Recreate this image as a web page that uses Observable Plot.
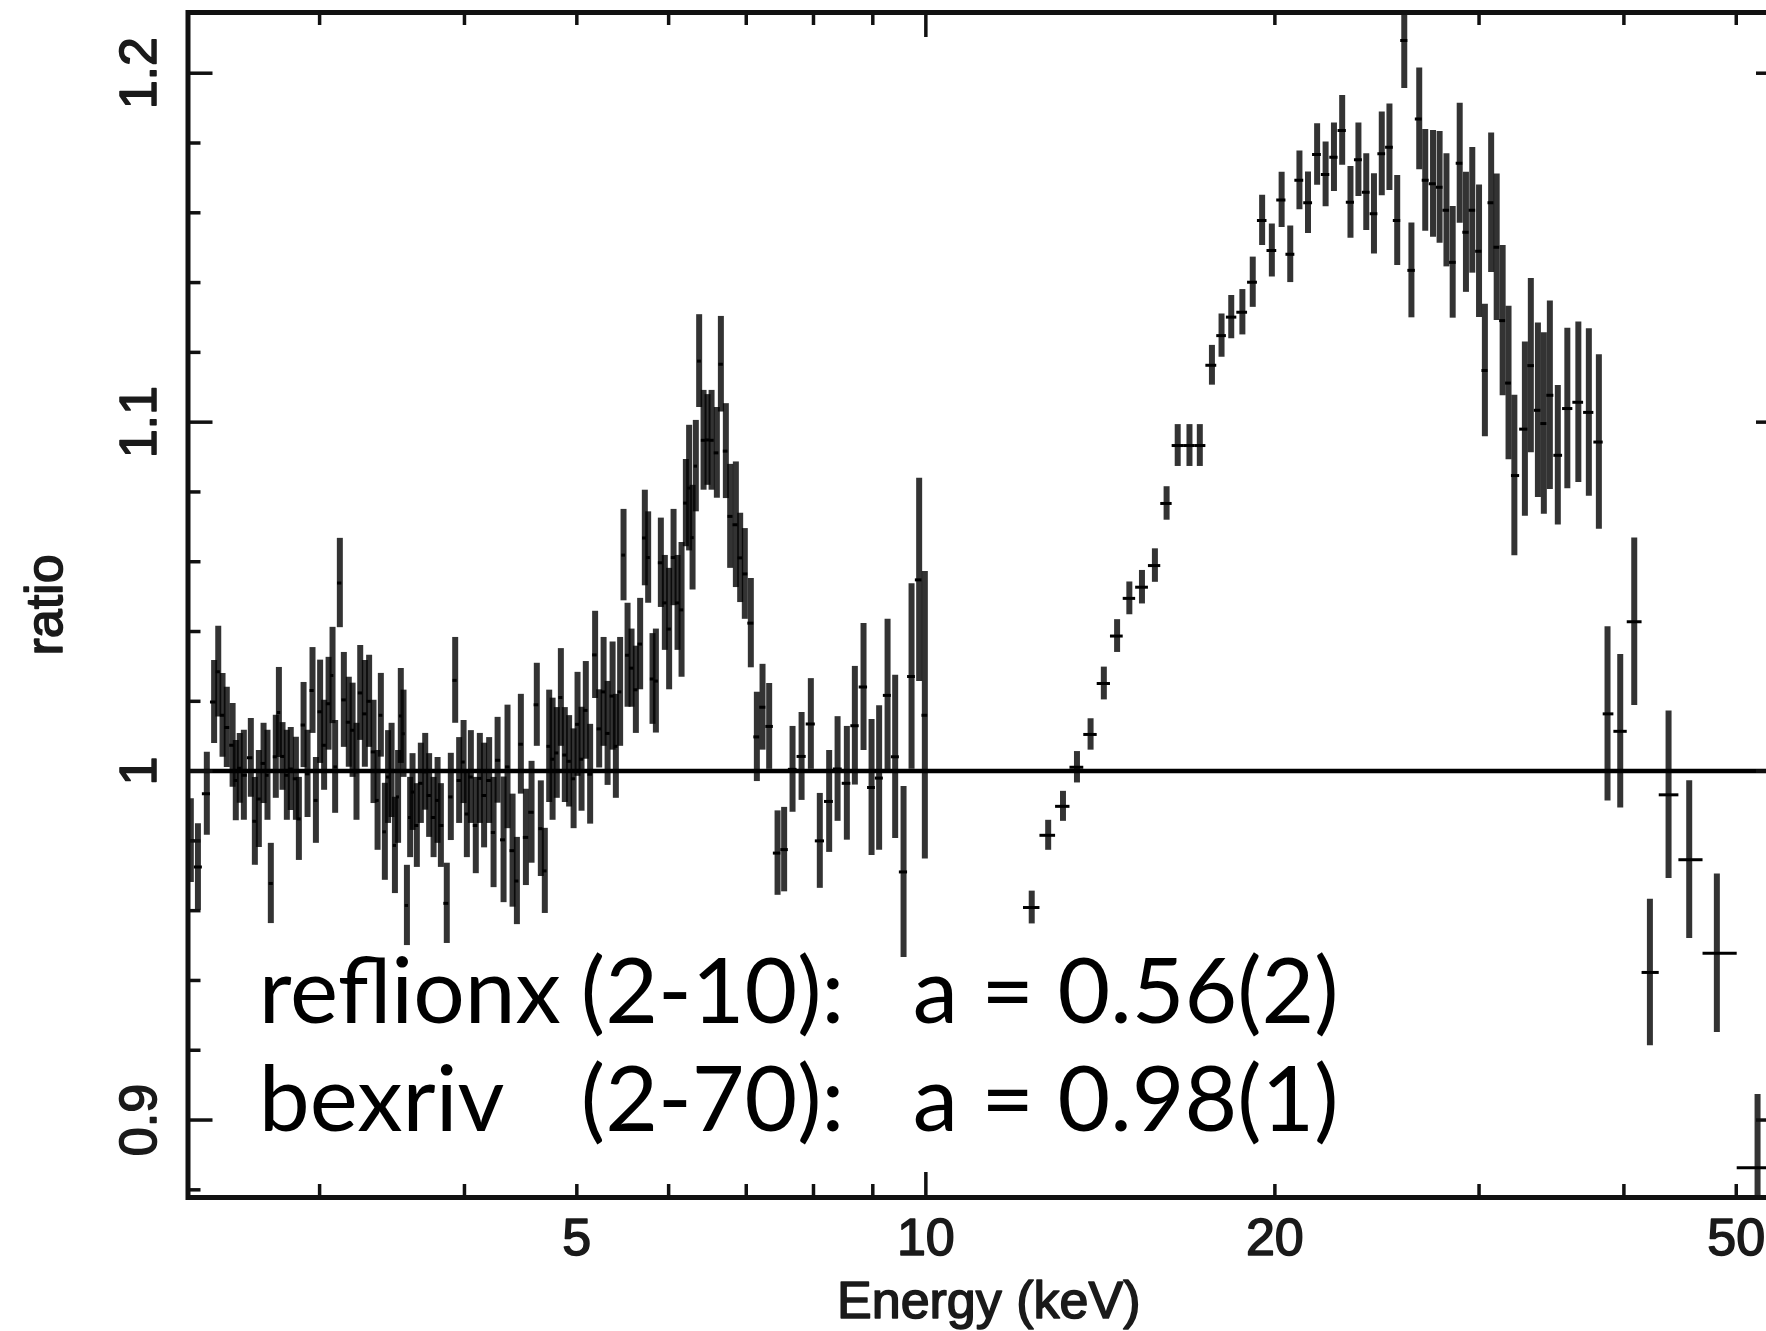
<!DOCTYPE html>
<html><head><meta charset="utf-8">
<script src="https://cdn.jsdelivr.net/npm/d3@7"></script>
<script src="https://cdn.jsdelivr.net/npm/@observablehq/plot@0.6"></script>
<style>
html,body{margin:0;padding:0;background:#fff;overflow:hidden}
#chart svg{display:block}
</style></head>
<body><div id="chart"></div>
<script>
// ---- data ----
// low-energy spectrum (keV), data/model ratio, 1-sigma error
const lowEnergy = [2.323,2.356,2.398,2.433,2.453,2.474,2.495,2.524,2.540,2.560,2.581,2.617,2.638,2.659,2.684,2.705,2.723,2.750,2.767,2.787,2.811,2.833,2.862,2.879,2.906,2.929,2.958,2.978,3.003,3.027,3.054,3.078,3.094,3.123,3.148,3.179,3.203,3.228,3.252,3.282,3.310,3.339,3.366,3.388,3.415,3.437,3.461,3.484,3.506,3.525,3.544,3.568,3.591,3.608,3.639,3.668,3.700,3.729,3.762,3.792,3.817,3.862,3.893,3.927,3.958,3.993,4.019,4.051,4.091,4.124,4.159,4.201,4.238,4.272,
4.323,4.357,4.401,4.439,4.474,4.519,4.570,4.618,4.655,4.692,4.733,4.765,4.805,4.844,4.882,4.924,4.968,5.007,5.047,5.090,5.134,5.185,5.227,5.273,5.315,5.368,5.403,5.449,5.486,5.530,5.574,5.622,5.670,5.723,5.761,5.811,5.850,5.908,5.955,6.006,6.059,6.107,6.156,6.209,6.249,6.292,6.333,6.375,6.431,6.482,6.534,6.603,6.656,6.722,6.780,6.857,
6.916,6.980,7.064,7.149,7.230,7.326,7.449,7.547,7.674,7.813,7.958,8.101,8.253,8.392,8.548,8.685,8.836,8.978,9.114,9.268,9.409,9.567,9.720,9.868,9.980];
const lowRatio = [0.9801,0.9725,0.9935,1.0198,1.0285,1.0160,1.0125,1.0074,0.9973,1.0008,0.9988,1.0038,0.9856,0.9920,1.0022,0.9988,0.9678,1.0041,1.0168,1.0042,0.9988,1.0006,0.9978,0.9863,1.0132,0.9992,1.0231,0.9916,1.0170,1.0074,1.0193,1.0274,1.0012,1.0539,1.0204,1.0140,1.0117,0.9998,1.0224,1.0164,1.0200,1.0055,0.9916,1.0160,0.9826,0.9983,1.0002,0.9787,0.9926,1.0158,1.0107,0.9615,0.9867,0.9940,0.9844,0.9965,0.9998,0.9930,0.9867,0.9916,0.9844,0.9621,0.9926,1.0260,0.9973,1.0026,0.9877,0.9983,0.9844,0.9979,0.9930,0.9973,0.9824,1.0031,
0.9803,1.0012,0.9772,0.9685,1.0077,0.9810,0.9882,1.0190,0.9835,0.9714,1.0071,1.0034,1.0052,1.0211,1.0046,1.0028,0.9978,1.0134,1.0034,1.0174,0.9991,1.0333,1.0121,1.0227,1.0108,1.0215,1.0071,1.0227,1.0619,1.0332,1.0295,1.0233,1.0364,1.0668,1.0612,1.0264,1.0258,1.0597,1.0482,1.0407,1.0612,1.0482,1.0462,1.0768,1.0811,1.0669,1.0874,1.1175,1.0948,1.0949,1.0948,1.0912,1.1166,1.0917,1.0730,1.0706,
1.0611,1.0565,1.0424,1.0098,1.0183,1.0128,0.9765,0.9775,1.0005,1.0042,1.0135,0.9800,0.9913,1.0006,0.9965,1.0130,1.0241,0.9953,0.9980,1.0217,1.0041,0.9711,1.0271,1.0548,1.0160];
const lowError = [0.0120,0.0124,0.0119,0.0119,0.0130,0.0120,0.0115,0.0120,0.0115,0.0100,0.0129,0.0113,0.0126,0.0139,0.0115,0.0129,0.0115,0.0119,0.0129,0.0097,0.0129,0.0119,0.0119,0.0119,0.0122,0.0125,0.0123,0.0123,0.0148,0.0129,0.0133,0.0138,0.0133,0.0128,0.0136,0.0129,0.0135,0.0139,0.0136,0.0153,0.0132,0.0148,0.0143,0.0120,0.0139,0.0133,0.0135,0.0138,0.0133,0.0136,0.0125,0.0115,0.0115,0.0110,0.0120,0.0115,0.0110,0.0120,0.0115,0.0123,0.0120,0.0115,0.0125,0.0123,0.0123,0.0119,0.0125,0.0133,0.0138,0.0129,0.0150,0.0123,0.0158,0.0123,
0.0180,0.0177,0.0162,0.0125,0.0143,0.0138,0.0146,0.0119,0.0137,0.0122,0.0161,0.0175,0.0130,0.0140,0.0136,0.0131,0.0143,0.0149,0.0149,0.0140,0.0143,0.0125,0.0112,0.0156,0.0149,0.0155,0.0149,0.0156,0.0131,0.0149,0.0112,0.0125,0.0131,0.0137,0.0131,0.0130,0.0149,0.0128,0.0136,0.0174,0.0138,0.0136,0.0193,0.0125,0.0180,0.0150,0.0131,0.0133,0.0143,0.0130,0.0143,0.0130,0.0137,0.0136,0.0149,0.0180,
0.0128,0.0130,0.0128,0.0128,0.0123,0.0123,0.0121,0.0121,0.0123,0.0126,0.0130,0.0136,0.0146,0.0150,0.0163,0.0170,0.0182,0.0195,0.0207,0.0218,0.0234,0.0245,0.0266,0.0291,0.0412];
// high-energy spectrum
const highEnergy = [12.34,12.75,13.13,13.50,13.87,14.24,14.62,14.98,15.36,15.76,16.13,16.49,16.88,17.23,17.65,17.99,18.34,18.75,19.14,19.50,19.88,20.27,20.62,21.00,21.36,21.75,22.12,22.49,22.86,23.24,23.61,23.98,24.35,24.73,25.11,25.50,25.86,26.23,26.64,26.96,27.38,27.74,28.12,28.47,28.87,29.23,29.60,30.00,30.35,30.73,31.07,31.44,31.81,32.18,32.86,33.25,33.72,34.12,34.53,35.08,35.75,36.54,37.31,38.06,38.72,39.71,40.83,42.12,43.71,45.54,48.11,52.16];
const highRatio = [0.9609,0.9816,0.9899,1.0011,1.0105,1.0251,1.0387,1.0495,1.0527,1.0589,1.0767,1.0933,1.0933,1.0933,1.1163,1.1248,1.1301,1.1315,1.1401,1.1578,1.1492,1.1637,1.1481,1.1693,1.1629,1.1767,1.1710,1.1759,1.1836,1.1630,1.1752,1.1659,1.1597,1.1769,1.1788,1.1578,1.2094,1.1435,1.1869,1.1693,1.1683,1.1673,1.1607,1.1458,1.1742,1.1544,1.1607,1.1490,1.1148,1.1629,1.1501,1.1291,1.1112,1.0847,1.0980,1.1162,1.1034,1.0996,1.1077,1.0905,1.1039,1.1057,1.1028,1.0943,1.0164,1.0114,1.0428,0.9423,0.9932,0.9746,0.9478,0.8863];
const highError = [0.0047,0.0043,0.0043,0.0045,0.0045,0.0047,0.0047,0.0047,0.0048,0.0048,0.0048,0.0060,0.0060,0.0060,0.0057,0.0062,0.0062,0.0065,0.0072,0.0072,0.0076,0.0079,0.0081,0.0084,0.0088,0.0088,0.0093,0.0098,0.0100,0.0103,0.0105,0.0110,0.0115,0.0120,0.0124,0.0129,0.0138,0.0136,0.0146,0.0146,0.0153,0.0160,0.0162,0.0160,0.0172,0.0172,0.0180,0.0190,0.0190,0.0200,0.0210,0.0215,0.0220,0.0230,0.0250,0.0250,0.0250,0.0260,0.0270,0.0200,0.0230,0.0230,0.0240,0.0250,0.0250,0.0220,0.0240,0.0210,0.0240,0.0226,0.0227,0.0210];

const xTickLabels = [5, 10, 20, 50];
const xMajorTicks = [10];
const xMinorTicks = [3, 4, 5, 6, 7, 8, 9, 20, 30, 40, 50];
const yTickLabels = [0.9, 1, 1.1, 1.2];
const yMinorTicks = [0.88, 0.92, 0.94, 0.96, 0.98, 1.02, 1.04, 1.06, 1.08, 1.12, 1.14, 1.16, 1.18];
const referenceRatio = [1];
const xLabel = "Energy (keV)";
const yLabel = "ratio";
const annotModel = ["reflionx", "bexriv"];
const annotRange = ["(2-10):", "(2-70):"];
const annotValue = ["a = 0.56(2)", "a = 0.98(1)"];

// ---- build rows (bin edges from neighbouring channels) ----
function toRows(E, R, S) {
  return E.map((e, i) => {
    const lo = i > 0 ? Math.sqrt(E[i - 1] * e) : e * Math.sqrt(e / E[i + 1]);
    const hi = i < E.length - 1 ? Math.sqrt(e * E[i + 1]) : e * Math.sqrt(e / E[i - 1]);
    return {e, r: R[i], s: S[i], lo, hi};
  });
}
const rows = toRows(lowEnergy, lowRatio, lowError).concat(toRows(highEnergy, highRatio, highError));

// ---- layout ----
const W = 1766, H = 1331;
const mL = 187.5, mR = -15, mT = 12, mB = 134;
const plotW = W - mL - mR, plotH = H - mT - mB;
const minorLen = 13, majorLen = 25;
const tickFont = "'Liberation Sans', Arial, Helvetica, sans-serif";
const annotFont = "Lato, 'Open Sans', sans-serif";
const annotSize = 91;
const annotLineY = [0.9279, 0.8970];
const annotColX = [2.659, 5.04, 9.745];
const tickStyle = {stroke: "#111", strokeWidth: 3.5};
const labelInk = {fill: "#1a1a1a", stroke: "#1a1a1a", strokeWidth: 1.6};

const annotText = (data, col) => Plot.text(data, {
  x: () => annotColX[col], y: (d, i) => annotLineY[i],
  textAnchor: "start", lineAnchor: "bottom",
  fontFamily: annotFont, fontSize: annotSize, fill: "#000"
});

const chart = Plot.plot({
  width: W, height: H,
  marginLeft: mL, marginRight: mR, marginTop: mT, marginBottom: mB,
  style: {fontFamily: tickFont, fontSize: "52px", color: "#111", background: "#fff"},
  x: {type: "log", domain: [2.31, 54.7], axis: null},
  y: {domain: [0.8778, 1.2174], axis: null},
  marks: [
    // error bars
    Plot.ruleX(rows, {x: "e", y1: d => d.r - d.s, y2: d => d.r + d.s, stroke: "#000", strokeOpacity: 0.8, strokeWidth: 6, clip: true}),
    Plot.ruleY(rows, {y: "r", x1: "lo", x2: "hi", stroke: "#000", strokeWidth: 3, clip: true}),
    Plot.ruleY(referenceRatio, {stroke: "#000", strokeWidth: 4.5}),
    // inward ticks, all four sides
    Plot.tickX(xMinorTicks, {x: d => d, insetTop: plotH - minorLen, ...tickStyle}),
    Plot.tickX(xMinorTicks, {x: d => d, insetBottom: plotH - minorLen, ...tickStyle}),
    Plot.tickX(xMajorTicks, {x: d => d, insetTop: plotH - majorLen, ...tickStyle}),
    Plot.tickX(xMajorTicks, {x: d => d, insetBottom: plotH - majorLen, ...tickStyle}),
    Plot.tickY(yMinorTicks, {y: d => d, insetRight: plotW - minorLen, ...tickStyle}),
    Plot.tickY(yMinorTicks, {y: d => d, insetLeft: plotW - minorLen, ...tickStyle}),
    Plot.tickY(yTickLabels, {y: d => d, insetRight: plotW - majorLen, ...tickStyle}),
    Plot.tickY(yTickLabels, {y: d => d, insetLeft: plotW - majorLen, ...tickStyle}),
    Plot.frame({stroke: "#111", strokeWidth: 5}),
    // tick labels
    Plot.text(xTickLabels, {x: d => d, text: d => String(d), frameAnchor: "bottom", dy: 21, lineAnchor: "top", ...labelInk}),
    Plot.text(yTickLabels, {y: d => d, text: d => String(d), frameAnchor: "left", dx: -32.5, rotate: -90, textAnchor: "middle", lineAnchor: "bottom", ...labelInk}),
    // axis labels
    Plot.text([xLabel], {frameAnchor: "bottom", dx: 4, dy: 120, lineAnchor: "bottom", ...labelInk}),
    Plot.text([yLabel], {frameAnchor: "left", dx: -126.5, rotate: -90, textAnchor: "middle", lineAnchor: "bottom", ...labelInk}),
    // annotation
    annotText(annotModel, 0),
    annotText(annotRange, 1),
    annotText(annotValue, 2)
  ]
});
document.getElementById("chart").appendChild(chart);
</script>
</body></html>
